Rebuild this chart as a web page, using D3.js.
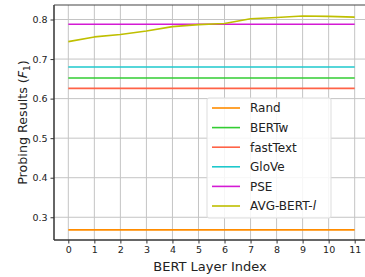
<!DOCTYPE html>
<html>
<head>
<meta charset="utf-8">
<script src="https://cdn.jsdelivr.net/npm/d3@7"></script>
<style>
  body { margin: 0; background: #fff; }
  text { font-family: "DejaVu Sans", sans-serif; fill: #222; }
</style>
</head>
<body>
<div id="chart"></div>
<script>
// layer indices and series values
const layers = [0, 1, 2, 3, 4, 5, 6, 7, 8, 9, 10, 11];
const avgBert = [0.744, 0.756, 0.762, 0.771, 0.782, 0.787, 0.790, 0.802, 0.805, 0.809, 0.808, 0.806];
const baselineNames = ["Rand", "BERTw", "fastText", "GloVe", "PSE"];
const baselineValues = [0.268, 0.652, 0.626, 0.680, 0.788];
const seriesNames = ["Rand", "BERTw", "fastText", "GloVe", "PSE", "AVG-BERT-l"];
const seriesColors = ["#ff8c00", "#32cd32", "#ff6347", "#1ec8cc", "#d41ad4", "#bfbf00"];
const yTicks = [0.3, 0.4, 0.5, 0.6, 0.7, 0.8];

const width = 365;
const height = 277;
const margin = { left: 54, right: -4, top: 5, bottom: 37 };

const svg = d3.select("#chart").append("svg")
    .attr("width", width)
    .attr("height", height);

const xScale = d3.scaleLinear()
    .domain([-0.55, 11.55])
    .range([margin.left, width - margin.right]);

const yScale = d3.scaleLinear()
    .domain([0.2425, 0.8367])
    .range([height - margin.bottom, margin.top]);

const color = d3.scaleOrdinal().domain(seriesNames).range(seriesColors);

// grid
svg.append("g").selectAll("line").data(layers)
  .enter().append("line")
    .attr("x1", d => xScale(d)).attr("x2", d => xScale(d))
    .attr("y1", margin.top).attr("y2", height - margin.bottom)
    .attr("stroke", "#c4c4c4").attr("stroke-width", 1);

svg.append("g").selectAll("line").data(yTicks)
  .enter().append("line")
    .attr("x1", margin.left).attr("x2", width)
    .attr("y1", d => yScale(d)).attr("y2", d => yScale(d))
    .attr("stroke", "#c4c4c4").attr("stroke-width", 1);

// lines
const line = d3.line()
    .x((d, i) => xScale(layers[i]))
    .y(d => yScale(d));

baselineNames.forEach((name, i) => {
  svg.append("path")
    .attr("fill", "none")
    .attr("stroke", color(name))
    .attr("stroke-width", 1.6)
    .attr("d", line(layers.map(() => baselineValues[i])));
});

svg.append("path")
  .attr("fill", "none")
  .attr("stroke", color("AVG-BERT-l"))
  .attr("stroke-width", 1.6)
  .attr("stroke-linejoin", "round")
  .attr("d", line(avgBert));

// axes
const xAxis = d3.axisBottom(xScale).tickValues(layers).tickSize(3.5).tickPadding(3);
const yAxis = d3.axisLeft(yScale).tickValues(yTicks).tickSize(3.5).tickPadding(3)
    .tickFormat(d3.format(".1f"));

const xAxisG = svg.append("g")
    .attr("transform", `translate(0, ${height - margin.bottom})`)
    .call(xAxis);
const yAxisG = svg.append("g")
    .attr("transform", `translate(${margin.left}, 0)`)
    .call(yAxis);

[xAxisG, yAxisG].forEach(g => {
  g.select(".domain").remove();
  g.selectAll("text").attr("font-size", 9.5).attr("font-family", "DejaVu Sans").attr("fill", "#222");
  g.selectAll(".tick line").attr("stroke", "#333");
});

// spines
svg.append("line").attr("x1", margin.left).attr("x2", margin.left)
  .attr("y1", margin.top).attr("y2", height - margin.bottom)
  .attr("stroke", "#333").attr("stroke-width", 1.5);
svg.append("line").attr("x1", margin.left).attr("x2", width)
  .attr("y1", height - margin.bottom).attr("y2", height - margin.bottom)
  .attr("stroke", "#333").attr("stroke-width", 1.5);
svg.append("line").attr("x1", margin.left).attr("x2", width)
  .attr("y1", margin.top).attr("y2", margin.top)
  .attr("stroke", "#444").attr("stroke-width", 1.2);

// axis labels
svg.append("text")
  .attr("x", 210).attr("y", 271)
  .attr("text-anchor", "middle")
  .attr("font-size", 13)
  .text("BERT Layer Index");

const yl = svg.append("text")
  .attr("transform", `translate(27, ${(margin.top + height - margin.bottom) / 2}) rotate(-90)`)
  .attr("text-anchor", "middle")
  .attr("font-size", 12.7);
yl.append("tspan").text("Probing Results (");
yl.append("tspan").attr("font-style", "italic").text("F");
yl.append("tspan").attr("font-size", 9).attr("dy", 3).text("1");
yl.append("tspan").attr("dy", -3).text(")");

// legend
const legend = svg.append("g").attr("transform", "translate(207, 98)");
legend.append("rect")
  .attr("width", 124).attr("height", 120)
  .attr("rx", 2)
  .attr("fill", "#fff").attr("fill-opacity", 0.85)
  .attr("stroke", "#ddd").attr("stroke-width", 1);

const rows = legend.selectAll("g.row").data(seriesNames)
  .enter().append("g")
    .attr("transform", (d, i) => `translate(0, ${10 + i * 19.6})`);
rows.append("line")
  .attr("x1", 5).attr("x2", 33)
  .attr("stroke", d => color(d)).attr("stroke-width", 1.6);
const lt = rows.append("text")
  .attr("x", 43).attr("dy", "0.36em")
  .attr("font-size", 12);
lt.filter(d => d !== "AVG-BERT-l").text(d => d);
const avgLabel = lt.filter(d => d === "AVG-BERT-l");
avgLabel.append("tspan").text("AVG-BERT-");
avgLabel.append("tspan").attr("font-style", "italic").text("l");
</script>
</body>
</html>
